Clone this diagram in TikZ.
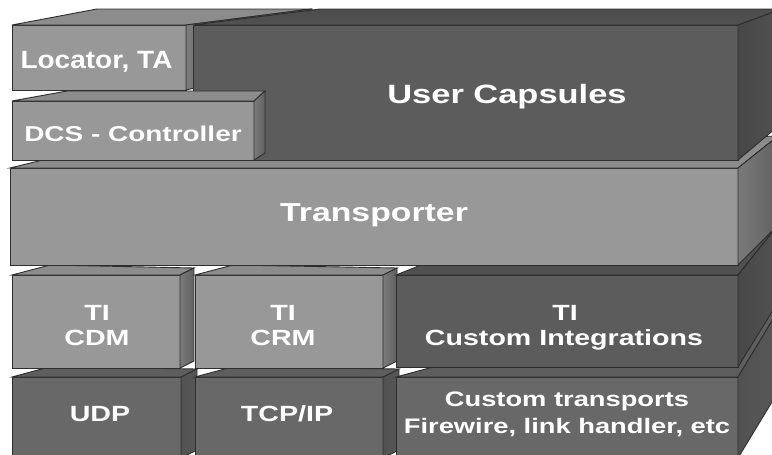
\documentclass[tikz,border=0pt]{standalone}
\usepackage{fontspec}
\setmainfont{Liberation Sans}
\newfontfamily\wideC{Liberation Sans}[FakeStretch=1.3]
\newfontfamily\wideL{Liberation Sans}[FakeStretch=1.12]
\usetikzlibrary{calc}
\definecolor{edgeC}{HTML}{2E2E2E}
\definecolor{lightF}{HTML}{989898}
\definecolor{lightT}{HTML}{8C8C8C}
\definecolor{darkF}{HTML}{5C5C5C}
\definecolor{midF}{HTML}{686868}
\tikzset{
  box/.style={draw=edgeC, line width=0.9pt, inner sep=0pt, outer sep=0pt},
  lightbox/.style={box, fill=lightF},
  darkbox/.style={box, fill=darkF},
  midbox/.style={box, fill=midF},
  lighttop/.style={draw=edgeC, line width=0.9pt, fill=lightT},
  darktop/.style={draw=edgeC, line width=0.9pt, top color=black!70, middle color=black!57, bottom color=black!68},
  midtop/.style={draw=edgeC, line width=0.9pt, fill=black!63},
  lightside/.style={draw=edgeC, line width=0.9pt, left color=black!52, middle color=black!44, right color=black!62},
  darkside/.style={draw=edgeC, line width=0.9pt, left color=black!72, middle color=black!58, right color=black!68},
  midside/.style={draw=edgeC, line width=0.9pt, left color=black!68, middle color=black!55, right color=black!66},
  lbl/.style={text=white, inner sep=0pt, anchor=base, font=\wideC\bfseries\fontsize{#1}{#1}\selectfont},
  lblL/.style={text=white, inner sep=0pt, anchor=base, font=\wideL\bfseries\fontsize{#1}{#1}\selectfont}
}
\newcommand\blockfaces[5]{%
  \path[#5top] (#1.north west) -- (#1.north east) -- ($(#1.north east)+(#3)$) -- ($(#1.north west)+(#2)$) -- cycle;
  \path[#5side] (#1.north east) -- (#1.south east) -- ($(#1.south east)+(#4)$) -- ($(#1.north east)+(#3)$) -- cycle;
}
\begin{document}
\begin{tikzpicture}[x=1pt,y=-1pt]
\useasboundingbox (0,0) rectangle (772,455);
\fill[white] (0,0) rectangle (772,455);
\begin{scope}
\clip (0,0) rectangle (772,455);
% bottom row
\node[midbox, minimum width=169pt, minimum height=81pt] (udp) at (96.5,417.5) {};
\blockfaces{udp}{37,-10}{16,-8}{16,-8}{mid}
\node[midbox, minimum width=188pt, minimum height=81pt] (tcp) at (289,417.5) {};
\blockfaces{tcp}{37,-10}{16,-8}{16,-8}{mid}
\node[midbox, minimum width=342pt, minimum height=81pt] (ctr) at (567,417.5) {};
\blockfaces{ctr}{37,-10}{40,-66}{40,-66}{mid}
% TI row
\node[lightbox, minimum width=168pt, minimum height=93pt] (cdm) at (96,321.5) {};
\blockfaces{cdm}{38,-10}{14,-7}{14,-7}{light}
\node[lightbox, minimum width=188pt, minimum height=93pt] (crm) at (289,321.5) {};
\blockfaces{crm}{38,-10}{14,-7}{14,-7}{light}
\node[darkbox, minimum width=342pt, minimum height=92pt] (cin) at (567,321) {};
\blockfaces{cin}{25,-10}{40,-50}{40,-65}{dark}
% Transporter
\node[lightbox, minimum width=728pt, minimum height=97pt] (trn) at (374,216.5) {};
\blockfaces{trn}{41,-10}{40,-32}{40,-40}{light}
% Locator
\node[lightbox, minimum width=174pt, minimum height=65pt] (loc) at (99,57.5) {};
\blockfaces{loc}{85,-16}{126,-16}{126,-30}{light}
% User Capsules
\node[darkbox, minimum width=545pt, minimum height=135pt] (ucp) at (465.5,92.5) {};
\blockfaces{ucp}{127,-16}{44,-16}{44,-37}{dark}
% DCS
\node[lightbox, minimum width=242pt, minimum height=59pt] (dcs) at (133,130.5) {};
\blockfaces{dcs}{55,-10}{11,-10}{11,-7}{light}
\end{scope}
% labels
\node[lblL=25] (tloc) at (96.5,68) {Locator, TA};
\node[lbl=21.5] (tdcs) at (133,141.7) {DCS - Controller};
\node[lbl=26.5] (tucp) at (507,103) {User Capsules};
\node[lbl=26] (ttrn) at (374,221.7) {Transporter};
\node[lbl=22] (tcdm1) at (97,320.7) {TI};
\node[lbl=22] (tcdm2) at (97,345) {CDM};
\node[lbl=22] (tcrm1) at (283,320.7) {TI};
\node[lbl=22] (tcrm2) at (283,345) {CRM};
\node[lbl=22] (tcin1) at (565,320.7) {TI};
\node[lbl=22] (tcin2) at (564,345) {Custom Integrations};
\node[lbl=22] (tudp) at (100,421.7) {UDP};
\node[lbl=22] (ttcp) at (287,421.7) {TCP/IP};
\node[lbl=21] (tctr1) at (567,406.7) {Custom transports};
\node[lbl=21] (tctr2) at (567,433) {Firewire, link handler, etc};
\end{tikzpicture}
\end{document}
